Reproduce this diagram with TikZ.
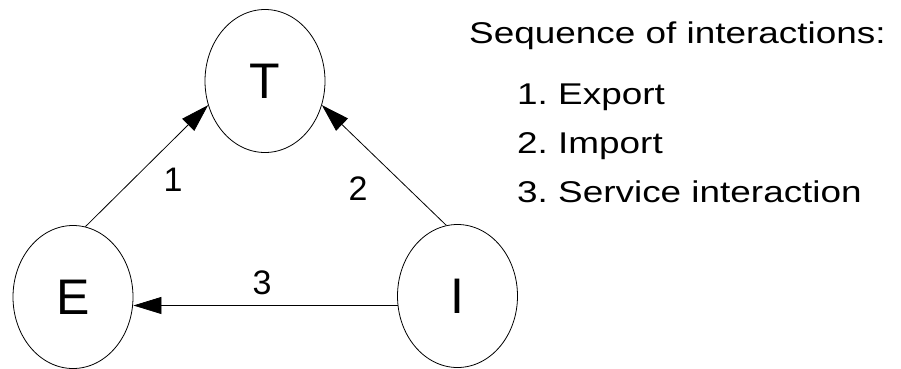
\documentclass[tikz,border=0pt]{standalone}
\usepackage{fontspec}
\setmainfont{Liberation Sans}
\newfontfamily\widefont[FakeStretch=1.23]{Liberation Sans}
\usetikzlibrary{arrows.meta,shapes.geometric}

\begin{document}
\begin{tikzpicture}[x=1pt, y=-1pt,
        party/.style={draw, ellipse, line width=0.8pt, minimum width=120pt, minimum height=143pt, inner sep=0pt, font=\fontsize{50}{60}\selectfont},
        flow/.style={line width=0.8pt, -{Triangle[length=28pt, width=17pt]}},
        tag/.style={font=\fontsize{34}{40}\selectfont},
        item/.style={anchor=base west, inner sep=0pt, font=\widefont\fontsize{30}{36}\selectfont}]
                \useasboundingbox (0,0) rectangle (901,368);

                \node[party] (T) at (265,81) {T};
                \node[party] (E) at (73,297) {E};
                \node[party] (I) at (457.5,296) {I};

                \draw[flow] (E.80) -- (T.203);
                \draw[flow] (I.99) -- (T.337);
                \draw[flow] (I.189) -- (E.east |- I.189);

                \node[tag] (n1) at (173,180) {1};
                \node[tag] (n2) at (358,189) {2};
                \node[tag] (n3) at (262,283) {3};

                \node[item] (head) at (469,43) {Sequence of interactions:};
                \node[item] (step1) at (517,104) {1.\ Export};
                \node[item] (step2) at (517,153) {2.\ Import};
                \node[item] (step3) at (517,202) {3.\ Service interaction};
            \end{tikzpicture}
\end{document}
